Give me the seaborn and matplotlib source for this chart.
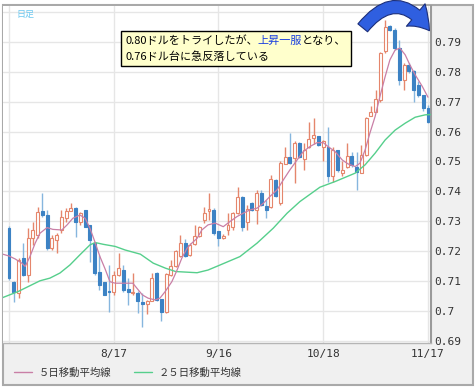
import matplotlib
matplotlib.use("Agg")
import matplotlib.pyplot as plt
import numpy as np
import seaborn as sns
from matplotlib.lines import Line2D
from matplotlib.patches import Rectangle, FancyArrowPatch
from matplotlib.offsetbox import TextArea, HPacker, VPacker, AnnotationBbox

# daily candles, oldest first
opens = [.7278, .7098, .7060, .7177, .7121, .7243, .7255, .7333, .7321, .7210,
         .7238, .7271, .7310, .7335, .7346, .7299, .7338, .7288, .7227, .7132,
         .7098, .7067, .7065, .7121, .7137, .7073, .7059, .7060, .7029, .7024,
         .7035, .7127, .7039, .6995, .7121, .7149, .7184, .7229, .7188, .7224,
         .7251, .7305, .7333, .7338, .7266, .7243, .7271, .7282, .7329, .7381,
         .7299, .7360, .7338, .7396, .7351, .7349, .7438, .7360, .7492, .7514,
         .7511, .7561, .7508, .7548, .7578, .7584, .7548, .7550, .7450, .7539,
         .7463, .7483, .7519, .7483, .7463, .7522, .7653, .7667, .7704, .7868,
         .7953, .7940, .7879, .7773, .7823, .7801, .7756, .7723, .7678]
highs = [.7285, .7100, .7178, .7227, .7277, .7298, .7349, .7394, .7338, .7254,
         .7262, .7338, .7343, .7360, .7349, .7332, .7338, .7288, .7227, .7188,
         .7098, .7154, .7135, .7193, .7154, .7109, .7127, .7066, .7060, .7036,
         .7127, .7130, .7040, .7127, .7171, .7205, .7255, .7240, .7226, .7288,
         .7285, .7349, .7394, .7344, .7266, .7258, .7327, .7332, .7416, .7385,
         .7355, .7366, .7405, .7405, .7370, .7455, .7440, .7500, .7550, .7595,
         .7567, .7565, .7561, .7631, .7645, .7584, .7572, .7617, .7550, .7539,
         .7500, .7561, .7533, .7533, .7555, .7650, .7684, .7739, .7867, .7974,
         .7956, .7945, .7907, .7828, .7828, .7806, .7770, .7723, .7690]
lows = [.7105, .7031, .7045, .7118, .7098, .7220, .7245, .7316, .7205, .7205,
        .7193, .7260, .7299, .7333, .7249, .7288, .7280, .7165, .7120, .7071,
        .7054, .6998, .7055, .7118, .7065, .7020, .7055, .6993, .6948, .6990,
        .7033, .7035, .6965, .6993, .7118, .7147, .7182, .7182, .7185, .7220,
        .7246, .7295, .7305, .7255, .7216, .7240, .7255, .7272, .7325, .7266,
        .7272, .7333, .7290, .7350, .7310, .7345, .7380, .7355, .7490, .7490,
        .7427, .7512, .7473, .7545, .7560, .7553, .7503, .7433, .7433, .7465,
        .7450, .7478, .7483, .7405, .7460, .7518, .7651, .7664, .7700, .7863,
        .7935, .7873, .7756, .7739, .7796, .7700, .7715, .7670, .7628]
closes = [.7110, .7065, .7171, .7121, .7243, .7271, .7330, .7321, .7210, .7243,
          .7255, .7316, .7335, .7346, .7299, .7327, .7282, .7238, .7127, .7087,
          .7054, .7064, .7121, .7143, .7071, .7062, .7061, .7032, .7024, .7033,
          .7110, .7037, .6995, .7124, .7149, .7202, .7229, .7184, .7222, .7251,
          .7280, .7329, .7340, .7260, .7243, .7251, .7288, .7329, .7381, .7282,
          .7340, .7338, .7396, .7355, .7338, .7441, .7383, .7494, .7514, .7496,
          .7561, .7516, .7539, .7575, .7587, .7556, .7567, .7450, .7539, .7472,
          .7470, .7519, .7489, .7466, .7522, .7645, .7664, .7708, .7864, .7951,
          .7940, .7879, .7773, .7823, .7801, .7739, .7723, .7678, .7633]

# moving averages (position = candle number)
ma5_pos = [-1.3, 0, 1.3, 2.7, 3.4, 4.4, 5.5, 6.5, 8, 9.2, 11.1, 12.2, 13.4, 14.9,
           16, 17, 18, 19.1, 20.2, 21.2, 22.3, 26, 28, 29.2, 30.7, 31.7, 32.8,
           34.2, 35.3, 36.3, 37.4, 38.4, 39.5, 40.5, 41.8, 43.3, 45, 46.4, 47.9,
           49.2, 50.6, 52.1, 53.4, 54.8, 56.3, 57.6, 59, 60.5, 61.8, 63.2, 64.7,
           66, 67, 68.5, 70, 71.2, 72.7, 73.7, 74.8, 75.8, 76.9, 77.9, 79, 80,
           81.1, 82.1, 83.2, 84.2, 85.3, 86.8, 88]
ma5_val = [.7190, .7184, .7174, .7160, .7149, .7182, .7227, .7260, .7279, .7273,
           .7271, .7288, .7310, .7321, .7310, .7277, .7233, .7182, .7140, .7098,
           .7093, .7093, .7054, .7043, .7037, .7043, .7065, .7098, .7137, .7177,
           .7210, .7227, .7243, .7271, .7288, .7294, .7282, .7299, .7316, .7327,
           .7338, .7344, .7360, .7383, .7405, .7438, .7472, .7505, .7533, .7550,
           .7563, .7563, .7550, .7533, .7505, .7492, .7483, .7494, .7539, .7595,
           .7651, .7717, .7784, .7840, .7873, .7879, .7857, .7823, .7790, .7751,
           .7715]
ma25_pos = [-1.3, 1.9, 6.5, 8.6, 10.7, 12.8, 14.9, 17, 18.1, 19.8, 22.3, 24.4,
            27.6, 30.3, 32.9, 35, 39.5, 41.8, 43.9, 48.5, 52.1, 55.5, 58.4,
            61.1, 65.3, 68.5, 72.7, 74.8, 76.9, 79, 81.1, 83.2, 85.3, 87.4, 88.5]
ma25_val = [.7045, .7065, .7101, .7110, .7127, .7154, .7188, .7221, .7229, .7223,
            .7216, .7204, .7190, .7160, .7143, .7132, .7128, .7137, .7151, .7182,
            .7227, .7277, .7327, .7366, .7414, .7433, .7461, .7489, .7528, .7572,
            .7605, .7628, .7648, .7656, .7657]

grid_pos = [0, 22, 44, 66, 88]
date_labels = ["", "8/17", "9/16", "10/18", "11/17"]
price_ticks = [0.69, 0.70, 0.71, 0.72, 0.73, 0.74, 0.75, 0.76, 0.77, 0.78, 0.79, 0.80]
price_labels = ["0.69", "0.7", "0.71", "0.72", "0.73", "0.74", "0.75", "0.76",
                "0.77", "0.78", "0.79", ""]

UP = "#e5866c"
DOWN = "#3c82c4"
DOWN_WICK = "#86b6de"
MA5_COLOR = "#c97fa6"
MA25_COLOR = "#56cf8c"

sns.set_style("white")
plt.rcParams["font.family"] = ["Noto Sans CJK JP", "DejaVu Sans"]

W, H = 476, 388
fig = plt.figure(figsize=(W / 100, H / 100), dpi=100, facecolor="white")

# grey frame behind everything
fig.add_artist(Rectangle((3 / W, 1 - 385 / H), 470 / W, 380 / H, transform=fig.transFigure,
                         facecolor="#f0f0f0", edgecolor="#a9a9a9", lw=1.5, zorder=0))

ax = fig.add_axes([3 / W, 1 - 343 / H, 428 / W, 337 / H])
ax.set_facecolor("white")
ax.set_zorder(1)

for i, (o, h, l, c) in enumerate(zip(opens, highs, lows, closes)):
    up = c >= o
    ax.vlines(i, l, h, color=UP if up else DOWN_WICK, lw=1.0, zorder=2)
    body = max(abs(c - o), 0.0003)
    ax.bar(i, body, bottom=min(o, c), width=0.62,
           facecolor="white" if up else DOWN, edgecolor=UP if up else DOWN,
           lw=0.8, zorder=3)

sns.lineplot(x=ma25_pos, y=ma25_val, color=MA25_COLOR, lw=1.0, sort=False, ax=ax, zorder=4)
sns.lineplot(x=ma5_pos, y=ma5_val, color=MA5_COLOR, lw=0.9, sort=False, ax=ax, zorder=4)

ax.set_xlim(-1.26, 88.63)
ax.set_ylim(0.6893, 0.802)
ax.set_xticks(grid_pos)
ax.set_xticklabels(date_labels)
ax.set_yticks(price_ticks)
ax.set_yticklabels(price_labels)
ax.yaxis.tick_right()
ax.grid(True, color="#e6e6e6", lw=1.0, zorder=0)
ax.set_axisbelow(True)
ax.tick_params(length=0, labelsize=8, labelcolor="#333333")
ax.tick_params(axis="x", pad=4)
ax.tick_params(axis="y", pad=2)
for lab in ax.get_xticklabels() + ax.get_yticklabels():
    lab.set_family("DejaVu Sans Mono")
for side in ["top", "left"]:
    ax.spines[side].set_visible(False)
ax.spines["right"].set_color("#9a9a9a")
ax.spines["right"].set_linewidth(1.5)
ax.spines["bottom"].set_color("#b5b5b5")
ax.spines["bottom"].set_linewidth(1.0)
ax.set_xlabel("")
ax.set_ylabel("")

fig.text(16 / W, 1 - 14 / H, "日足", fontsize=6.5, color="#6cc8f0", va="center", ha="left",
         zorder=5)

# comment box with the blue phrase
tp = dict(fontsize=8, family=["Noto Sans CJK JP", "DejaVu Sans"])
row1 = HPacker(children=[TextArea("0.80ドルをトライしたが、", textprops=dict(color="black", **tp)),
                         TextArea("上昇一服", textprops=dict(color="#1a3fe0", **tp)),
                         TextArea("となり、", textprops=dict(color="black", **tp))],
               pad=0, sep=0)
row2 = TextArea("0.76ドル台に急反落している", textprops=dict(color="black", **tp))
note = VPacker(children=[row1, row2], pad=0, sep=4, align="left")
ab = AnnotationBbox(note, (125 / W, 1 - 35 / H), xycoords="figure fraction",
                    box_alignment=(0, 1), frameon=True, pad=0.3,
                    bboxprops=dict(facecolor="#ffffcc", edgecolor="black", lw=1,
                                   boxstyle="square"))
ab.set_zorder(6)
fig.add_artist(ab)

arrow = FancyArrowPatch((361 / W, 1 - 30 / H), (431 / W, 1 - 33 / H),
                        transform=fig.transFigure,
                        connectionstyle="arc3,rad=-0.7",
                        arrowstyle="simple,head_length=15,head_width=21,tail_width=9",
                        facecolor="#2f5fe0", edgecolor="#1c2f7a", lw=0.8, zorder=7)
fig.add_artist(arrow)

handles = [Line2D([], [], color=MA5_COLOR, lw=1.0), Line2D([], [], color=MA25_COLOR, lw=1.0)]
fig.legend(handles, ["５日移動平均線", "２５日移動平均線"], loc="center left",
           bbox_to_anchor=(14 / W, 1 - 373 / H), ncol=2, frameon=False,
           fontsize=7.5, handlelength=1.75, handletextpad=0.6, columnspacing=2.2,
           borderpad=0, borderaxespad=0, labelcolor="#333333")

fig.savefig("out.png", dpi=100, facecolor="white")
